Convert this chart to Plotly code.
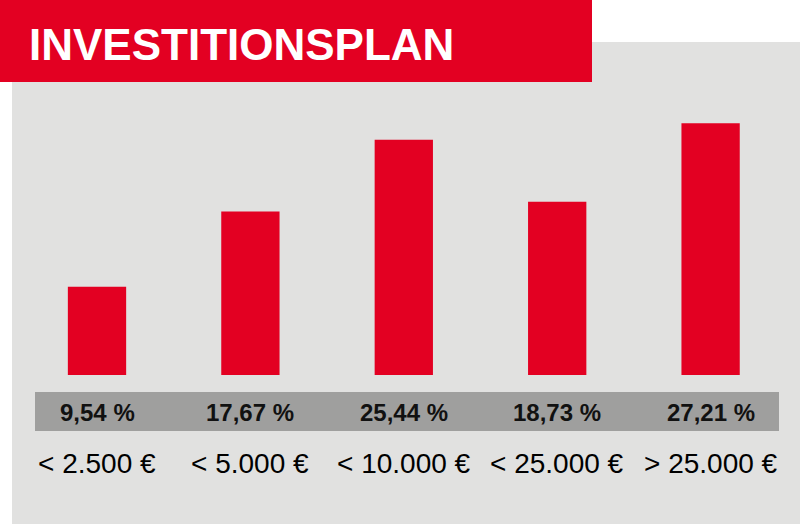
import plotly.graph_objects as go

# ---------------------------
# DATEN
# ---------------------------
kategorien = ["< 2.500 €", "< 5.000 €", "< 10.000 €", "< 25.000 €", "> 25.000 €"]
anteile = [9.54, 17.67, 25.44, 18.73, 27.21]
anteil_texte = ["9,54 %", "17,67 %", "25,44 %", "18,73 %", "27,21 %"]
titel = "INVESTITIONSPLAN"

ROT = "#e30022"
HELLGRAU = "#e1e1e0"
DUNKELGRAU = "#9f9f9e"

W, H = 800, 524


def py(px_from_top):
    # Pixel von oben -> Papierkoordinate
    return (H - px_from_top) / H


fig = go.Figure()

fig.add_trace(go.Bar(
    x=list(range(len(kategorien))),
    y=anteile,
    marker=dict(color=ROT, line=dict(width=0)),
    width=0.38,
    hoverinfo="skip",
))

# Prozentwerte im grauen Band und Kategorien darunter
for i, (kat, txt) in enumerate(zip(kategorien, anteil_texte)):
    fig.add_annotation(
        x=i, xref="x", y=py(412), yref="paper",
        text="<b>" + txt + "</b>", showarrow=False,
        font=dict(family="Liberation Sans, Arial", size=24, color="#111111"),
        xanchor="center", yanchor="middle",
    )
    fig.add_annotation(
        x=i, xref="x", y=py(463), yref="paper",
        text=kat, showarrow=False,
        font=dict(family="Liberation Sans, Arial", size=28, color="#000000"),
        xanchor="center", yanchor="middle",
    )

# Titel
fig.add_annotation(
    x=27 / W, xref="paper", y=py(44), yref="paper",
    text="<b>" + titel + "</b>", showarrow=False,
    font=dict(family="Liberation Sans, Arial", size=44, color="white"),
    xanchor="left", yanchor="middle",
)

shapes = [
    # grauer Hintergrund
    dict(type="rect", xref="paper", yref="paper", x0=12 / W, x1=1, y0=0, y1=py(42),
         fillcolor=HELLGRAU, line=dict(width=0), layer="below"),
    # rotes Titelband
    dict(type="rect", xref="paper", yref="paper", x0=0, x1=592 / W, y0=py(82), y1=1,
         fillcolor=ROT, line=dict(width=0), layer="below"),
    # dunkelgraues Band fuer die Prozentwerte
    dict(type="rect", xref="paper", yref="paper", x0=35 / W, x1=779 / W, y0=py(431), y1=py(392),
         fillcolor=DUNKELGRAU, line=dict(width=0), layer="below"),
]

fig.update_layout(
    width=W, height=H,
    margin=dict(l=0, r=0, t=0, b=0),
    paper_bgcolor="white",
    plot_bgcolor="rgba(0,0,0,0)",
    showlegend=False,
    shapes=shapes,
    xaxis=dict(range=[-0.5, 4.5], domain=[20.3 / W, 787.3 / W],
               visible=False, fixedrange=True),
    yaxis=dict(range=[0, 36.0], domain=[py(375), py(42)],
               visible=False, fixedrange=True),
)

# Browser-Standardrand entfernen, damit die Grafik bei 0,0 beginnt
fig.write_html("out.html", config={"displayModeBar": False},
               post_script="document.body.style.margin='0';")
